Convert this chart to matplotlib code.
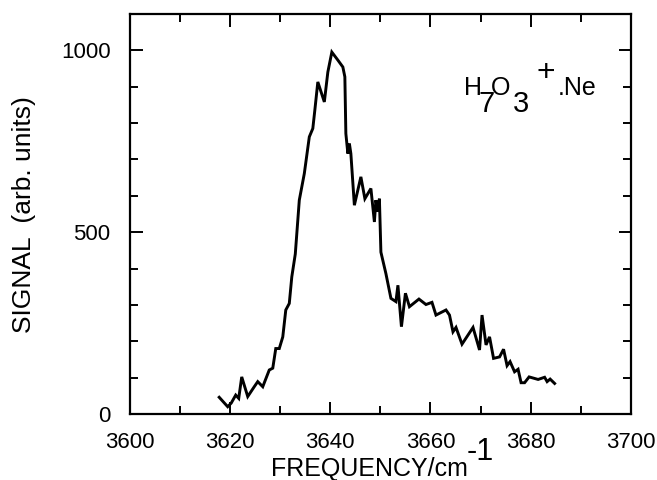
import numpy as np
import matplotlib
matplotlib.use("Agg")
import matplotlib.pyplot as plt

plt.rcParams['font.family'] = ['Liberation Sans', 'DejaVu Sans']
plt.rcParams['mathtext.default'] = 'regular'

# spectrum
freq = [3617.8, 3619.5, 3620.2, 3621.1, 3621.7, 3622.3, 3623.5, 3624.8, 3625.5, 3626.5,
        3627.8, 3628.5, 3629.1, 3629.8, 3630.5, 3631.1, 3631.8, 3632.3, 3633.0, 3633.8,
        3634.8, 3635.8, 3636.5, 3636.9, 3637.5, 3638.8, 3639.5, 3640.3, 3641.5, 3642.5,
        3642.9, 3643.1, 3643.5, 3643.8, 3644.1, 3644.8, 3646.1, 3646.9, 3648.1, 3648.8,
        3649.1, 3649.5, 3649.8, 3650.1, 3651.1, 3652.1, 3653.1, 3653.5, 3654.2, 3655.0,
        3655.8, 3657.7, 3659.1, 3660.3, 3661.1, 3663.1, 3663.8, 3664.5, 3665.1, 3666.3,
        3668.5, 3669.8, 3670.3, 3671.1, 3671.8, 3672.6, 3673.8, 3674.6, 3675.3, 3675.9,
        3676.8, 3677.5, 3678.1, 3678.8, 3679.7, 3681.5, 3682.8, 3683.3, 3683.9, 3684.8]
signal = [46, 20, 30, 52, 43, 102, 48, 75, 89, 75,
          121, 126, 180, 180, 212, 286, 304, 377, 440, 588,
          661, 762, 785, 835, 913, 858, 940, 995, 973, 954,
          927, 771, 716, 744, 716, 574, 652, 592, 620, 528,
          588, 556, 592, 445, 386, 318, 309, 354, 240, 332,
          295, 316, 301, 307, 272, 286, 272, 226, 238, 192,
          238, 176, 272, 190, 212, 153, 157, 178, 133, 144,
          116, 123, 86, 86, 102, 95, 101, 89, 96, 84]

W, H = 657, 480
fig = plt.figure(figsize=(W / 100, H / 100), dpi=100)
ax = fig.add_axes([0.198, 0.1375, 0.762, 0.8335])

def px(x, y):
    # pixel position -> figure fraction
    return x / W, 1 - y / H

ax.plot(freq, signal, color='black', lw=2.1, solid_joinstyle='miter')

ax.set_xlim(3600, 3700)
ax.set_ylim(0, 1100)
ax.set_xticks(np.arange(3600, 3701, 20))
ax.set_xticks(np.arange(3610, 3700, 20), minor=True)
ax.set_yticks([0, 500, 1000])
ax.set_yticks([y for y in range(100, 1100, 100) if y not in (500, 1000)], minor=True)

ax.tick_params(which='both', direction='in', top=True, right=True, width=1.4, labelsize=16)
ax.tick_params(which='major', length=9)
ax.tick_params(which='minor', length=5.5)
ax.tick_params(axis='y', pad=14)
ax.tick_params(axis='x', pad=13)
for s in ax.spines.values():
    s.set_linewidth(1.6)

# axis titles, built by hand so the big exponent matches
fig.text(*px(271, 476), 'FREQUENCY/cm', fontsize=18, ha='left', va='baseline')
fig.text(*px(467, 437), '-1', fontsize=22, ha='left', va='top')
fig.text(*px(12, 215), 'SIGNAL  (arb. units)', fontsize=19, rotation=90,
         ha='left', va='center')

# species label
fig.text(*px(464, 95), 'H', fontsize=18, va='baseline')
fig.text(*px(478, 112), '7', fontsize=21, va='baseline')
fig.text(*px(491, 95), 'O', fontsize=18, va='baseline')
fig.text(*px(513, 112), '3', fontsize=21, va='baseline')
fig.text(*px(536, 81), '+', fontsize=23, va='baseline')
fig.text(*px(558, 95), '.Ne', fontsize=18, va='baseline')

fig.savefig('out.png', dpi=100)
